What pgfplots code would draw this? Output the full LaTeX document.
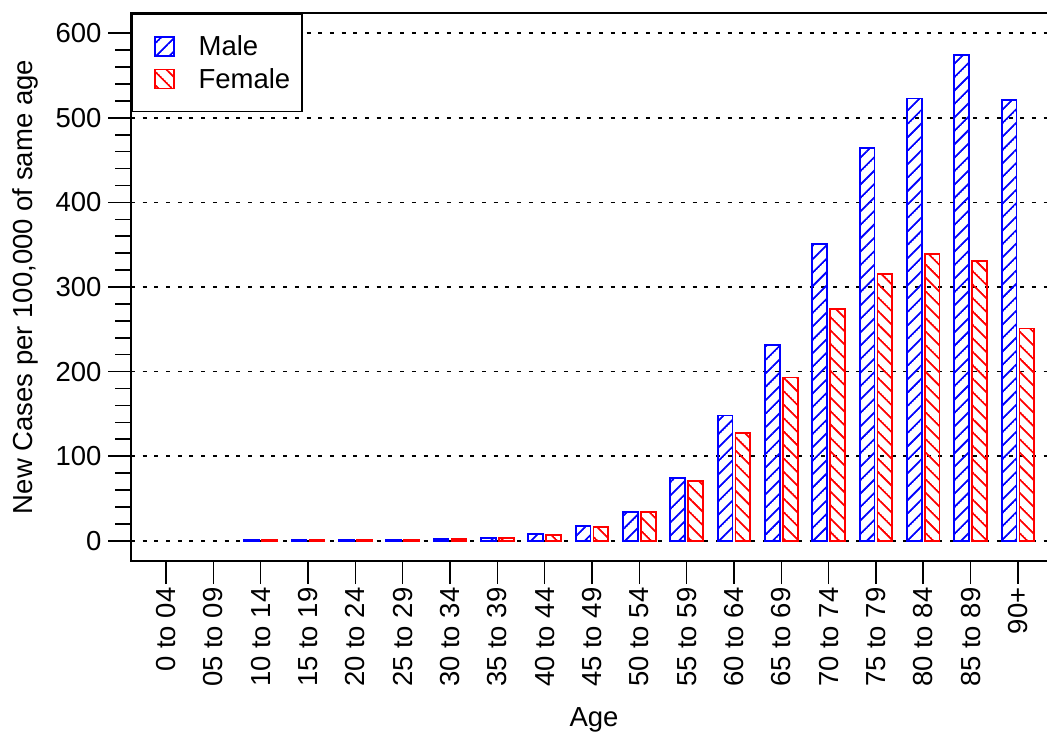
\documentclass[border=0pt]{standalone}
\usepackage{fontspec}
\setmainfont{Liberation Sans}
\usepackage{pgfplots}
\pgfplotsset{compat=1.18}
\usetikzlibrary{patterns.meta}
\tikzdeclarepattern{
  name=mylines,
  parameters={\pgfkeysvalueof{/pgf/pattern keys/size},\pgfkeysvalueof{/pgf/pattern keys/angle},\pgfkeysvalueof{/pgf/pattern keys/line width}},
  bounding box={(0,-0.5*\pgfkeysvalueof{/pgf/pattern keys/line width}) and (\pgfkeysvalueof{/pgf/pattern keys/size},0.5*\pgfkeysvalueof{/pgf/pattern keys/line width})},
  tile size={(\pgfkeysvalueof{/pgf/pattern keys/size},\pgfkeysvalueof{/pgf/pattern keys/size})},
  tile transformation={rotate=\pgfkeysvalueof{/pgf/pattern keys/angle}},
  defaults={size/.initial=5pt,angle/.initial=45,line width/.initial=.4pt},
  code={\draw[line width=\pgfkeysvalueof{/pgf/pattern keys/line width}] (0,0) -- (\pgfkeysvalueof{/pgf/pattern keys/size},0);}
}
\newcommand\bigfont{\fontsize{27.5bp}{33bp}\selectfont}
\pgfplotsset{
  mylegend/.style={/pgfplots/legend image code/.code={\path (0bp,0bp); \draw[##1] (10bp,0bp) rectangle (29bp,19bp);}}
}
\begin{document}
\begin{tikzpicture}
\begin{axis}[
  at={(0,0)}, anchor=south west,
  scale only axis, width=926bp, height=548bp,
  xmin=-0.7395, xmax=18.825, ymin=-24, ymax=624,
  axis line style={line width=1.6bp},
  ybar, bar width=14.8bp,
  xtick={0,...,18},
  xticklabels={0 to 04,05 to 09,10 to 14,15 to 19,20 to 24,25 to 29,30 to 34,35 to 39,40 to 44,45 to 49,50 to 54,55 to 59,60 to 64,65 to 69,70 to 74,75 to 79,80 to 84,85 to 89,90+},
  ytick={0,100,...,600},
  minor y tick num=4,
  xtick pos=left, ytick pos=left,
  tick align=outside,
  major tick length=23bp, minor tick length=16bp,
  every tick/.style={black, line width=1.6bp},
  ymajorgrids,
  major grid style={black, line width=1.6bp, dash pattern=on 4bp off 7.7bp},
  tick label style={font=\bigfont},
  /pgf/number format/assume math mode=true,
  xticklabel style={rotate=90, anchor=east},
  yticklabel style={anchor=east, xshift=-3bp},
  label style={font=\bigfont},
  xlabel={Age},
  ylabel={New Cases per 100,000 of same age},
  xlabel style={at={(axis description cs:0.5,-0.3029)}, anchor=base},
  ylabel style={at={(axis description cs:-0.10691,0.5)}, anchor=base},
  legend style={at={(axis description cs:0,1)}, anchor=north west, draw=black, line width=1.6bp, font=\bigfont, inner xsep=12bp, inner ysep=22bp, row sep=12bp, column sep=24bp, nodes={inner sep=0pt, text depth=0pt}, cells={anchor=base west}},
]
\addplot[draw=blue, line width=1.8bp, pattern={mylines[size=9.5bp,angle=45,line width=1.8bp]}, pattern color=blue, bar shift=-8.9bp, mylegend] coordinates {
(2,0.6) (3,0.7) (4,1.0) (5,1.2) (6,1.6) (7,3) (8,7.9) (9,17.8) (10,34.4) (11,74.5) (12,148) (13,231) (14,351) (15,464) (16,523) (17,574) (18,521)};
\addlegendentry{Male}
\addplot[draw=red, line width=1.8bp, pattern={mylines[size=9.5bp,angle=-45,line width=1.8bp]}, pattern color=red, bar shift=8.9bp, mylegend] coordinates {
(2,0.5) (3,0.6) (4,0.9) (5,1.2) (6,1.6) (7,3) (8,6.7) (9,15.8) (10,33.6) (11,71) (12,127) (13,193) (14,274) (15,315) (16,339) (17,331) (18,251)};
\addlegendentry{Female}
\end{axis}
\pgfresetboundingbox
\useasboundingbox (-131bp,-175bp) rectangle (916bp,561bp);
\end{tikzpicture}
\end{document}
